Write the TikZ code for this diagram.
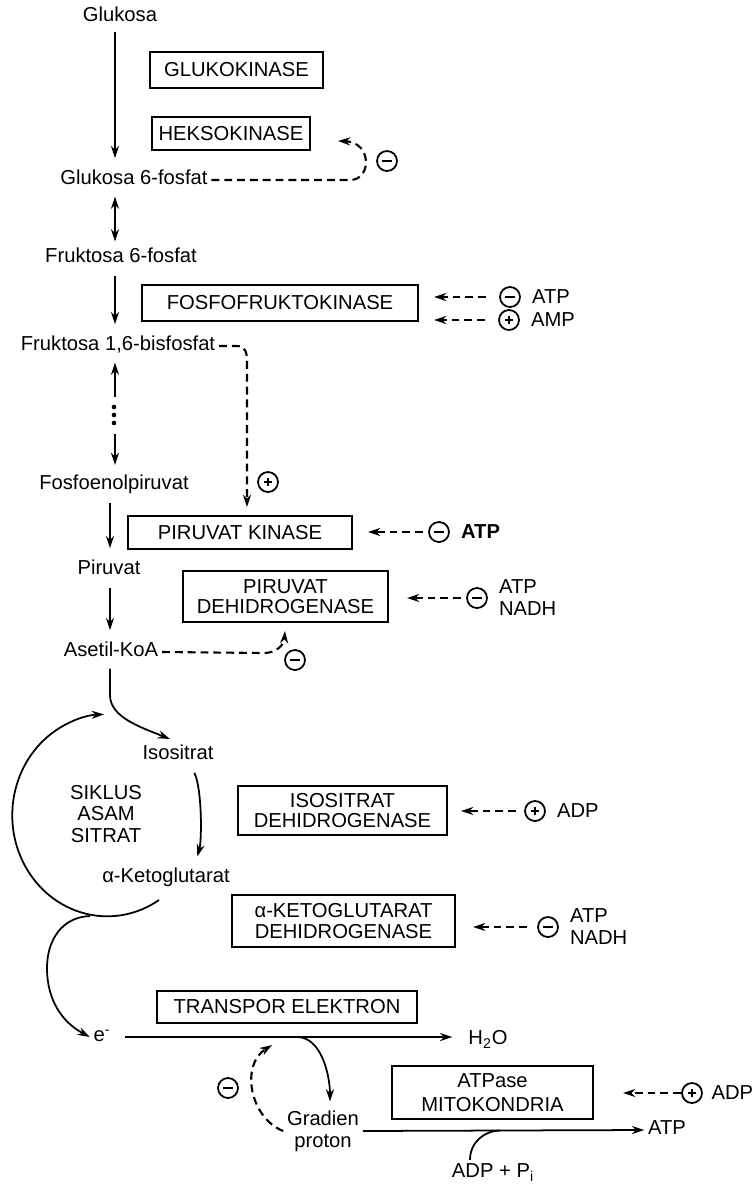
\documentclass[tikz,border=0pt]{standalone}
\usepackage{fontspec}
\setmainfont{Liberation Sans}
\usetikzlibrary{arrows.meta,positioning}

\begin{document}
\begin{tikzpicture}[x=0.02cm,y=-0.02cm,
    font=\fontsize{11.5}{12.5}\selectfont,
    zat/.style={inner sep=2pt,text height=8pt,text depth=2.5pt},
    enzim/.style={draw,line width=1.2pt,align=center,inner sep=2pt,
      font=\fontsize{11.5}{11.5}\selectfont},
    panah/.style={line width=1pt,-{Stealth[length=7pt,width=4.6pt]}},
    atur/.style={line width=1.2pt,dash pattern=on 4.5pt off 2.8pt,
      -{Stealth[length=7pt,width=4.6pt]}},
    reg/.style={atur,shorten <=0.1cm,shorten >=0.3cm},
    tanda/.style={circle,draw,line width=1pt,minimum size=0.4cm,inner sep=0pt},
    minus/.style={tanda,path picture={\draw[line width=1pt]
      ([xshift=-2.6pt]path picture bounding box.center) --
      ([xshift=2.6pt]path picture bounding box.center);}},
    plus/.style={tanda,path picture={\draw[line width=1pt]
      ([xshift=-2.2pt]path picture bounding box.center) --
      ([xshift=2.2pt]path picture bounding box.center)
      ([yshift=-2.2pt]path picture bounding box.center) --
      ([yshift=2.2pt]path picture bounding box.center);}}]

\fill[white] (0,0) rectangle (753,1188);
\useasboundingbox (0,0) rectangle (753,1188);

\coordinate (sumbu) at (115,0);
\coordinate (sumbuB) at (110,0);
\coordinate (hkujung) at (338,141);
\coordinate (pkatas) at (247,507);
\coordinate (pdhbawah) at (285,631);
\coordinate (masuk) at (170,739);
\coordinate (kg) at (159,900);
\coordinate (simpang) at (90,916);
\coordinate (cabang) at (297,1037);
\coordinate (umpan) at (272,1045);
\coordinate (gabung) at (500,1130.5);

% zat
\node[zat] (glukosa) at (120,17) {Glukosa};
\node[zat] (g6p) at (134,180) {Glukosa 6-fosfat};
\node[zat] (f6p) at (121,258) {Fruktosa 6-fosfat};
\node[zat] (f16bp) at (118,346) {Fruktosa 1,6-bisfosfat};
\node[zat] (pep) at (114,485) {Fosfoenolpiruvat};
\node[zat] (piruvat) at (109,570) {Piruvat};
\node[zat] (asetil) at (111,652) {Asetil-KoA};
\node[zat] (isositrat) at (178,755) {Isositrat};
\node[zat] (ketoglutarat) at (166,878) {α-Ketoglutarat};
\node[align=center,font=\fontsize{11.5}{12}\selectfont] (siklus) at (106,814) {SIKLUS\\ASAM\\SITRAT};
\node[zat] (elektron) at (102,1037) {e\textsuperscript{-}};
\node[zat] (h2o) at (488,1040) {H\textsubscript{2}O};
\node[align=center,inner sep=2pt] (gradien) at (323,1131) {Gradien\\proton};
\node[zat] (atp) at (667,1130) {ATP};
\node[zat] (adppi) at (493,1173) {ADP + P\textsubscript{i}};

% enzim
\node[enzim,minimum width=3.46cm,minimum height=0.72cm] (gk) at (236.5,70) {GLUKOKINASE};
\node[enzim,minimum width=3.16cm,minimum height=0.66cm] (hk) at (231,133.5) {HEKSOKINASE};
\node[enzim,minimum width=5.52cm,minimum height=0.72cm] (pfk) at (280,303) {FOSFOFRUKTOKINASE};
\node[enzim,minimum width=4.48cm,minimum height=0.66cm] (pk) at (240,532.5) {PIRUVAT KINASE};
\node[enzim,minimum width=4.1cm,minimum height=1.02cm] (pdh) at (285.5,596.5) {PIRUVAT\\DEHIDROGENASE};
\node[enzim,minimum width=4.18cm,minimum height=0.98cm] (idh) at (342.5,810.5) {ISOSITRAT\\DEHIDROGENASE};
\node[enzim,minimum width=4.46cm,minimum height=1.04cm] (kgdh) at (343.5,921) {α-KETOGLUTARAT\\DEHIDROGENASE};
\node[enzim,minimum width=5.2cm,minimum height=0.64cm] (te) at (287,1007) {TRANSPOR ELEKTRON};
\node[enzim,minimum width=4.02cm,minimum height=1.06cm] (atpase) at (492.5,1092.5) {ATPase\\[2pt]MITOKONDRIA};

% glikolisis
\draw[panah,shorten <=1pt,shorten >=5pt] (sumbu |- glukosa.south) -- (sumbu |- g6p.north);
\draw[line width=1pt,{Stealth[length=7pt,width=4.6pt]}-{Stealth[length=7pt,width=4.6pt]},
  shorten <=2pt,shorten >=2pt] (sumbu |- g6p.south) -- (sumbu |- f6p.north);
\draw[panah,shorten <=3pt,shorten >=5pt] (sumbu |- f6p.south) -- (sumbu |- f16bp.north);
\draw[line width=1pt,{Stealth[length=7pt,width=4.6pt]}-,shorten <=2pt]
  (sumbu |- f16bp.south) -- ++(0,38);
\foreach \t in {407,415,423}
  \fill (114,\t) circle (1.3pt);
\draw[panah,shorten >=4pt] (sumbu |- f16bp.south) ++(0,75) -- (sumbu |- pep.north);
\draw[panah,shorten <=3pt,shorten >=5pt] (sumbuB |- pep.south) -- (sumbuB |- piruvat.north);
\draw[panah,shorten <=3pt,shorten >=5pt] (sumbuB |- piruvat.south) -- (sumbuB |- asetil.north);

% siklus asam sitrat
\draw[panah,shorten <=2pt] (sumbuB |- asetil.south) -- ++(0,30)
  .. controls +(0,22) and +(-30,-12) .. (masuk);
\draw[panah] (kg) arc[start angle=57,end angle=268,x radius=95,y radius=101];
\draw[panah,shorten <=3pt,shorten >=5pt] ([xshift=0.28cm]isositrat.south)
  .. controls +(10,20) and +(7,-25) .. ([xshift=0.58cm]ketoglutarat.north);
\draw[panah] (simpang) .. controls (62,917) and (47,940) .. (47,968)
  .. controls (47,1000) and (62,1022) .. (elektron.west);

% transpor elektron
\draw[panah,shorten <=6pt,shorten >=7pt] (elektron.east) -- (elektron.east -| h2o.west);
\draw[panah,shorten >=3pt] (cabang) .. controls +(25,0) and +(0,-30) .. ([xshift=0.14cm]gradien.north);
\draw[panah] (gradien.east) -- (atp.west);
\draw[line width=1pt] ([xshift=-0.46cm]adppi.north) .. controls +(0,-18) and +(-15,0) .. (gabung);

% regulasi
\draw[atur] (g6p.east) -- (350,180) .. controls (372,180) and (372,142) .. (hkujung);
\node[minus] (m1) at (387,161) {};

\node[minus] (m2) at (510,297) {};
\node[right=0.1cm of m2] (atp1) {ATP};
\node[plus] (p1) at (509,320) {};
\node[right=0.1cm of p1] (amp1) {AMP};
\draw[reg,shorten <=0.26cm] (m2) -- (m2 -| pfk.east);
\draw[reg,shorten <=0.26cm] (p1) -- (p1 -| pfk.east);

\draw[atur] (f16bp.east) -- (236,346) .. controls (246,346) and (247,352) .. (247,364) -- (pkatas);
\node[plus] (p2) at (268,482) {};

\node[minus] (m3) at (439,532) {};
\node[right=0.1cm of m3] (atp2) {\bfseries ATP};
\draw[reg] (m3) -- (m3 -| pk.east);

\node[minus] (m4) at (477,598) {};
\node[right=0.1cm of m4,align=left] (atpnadh1) {ATP\\NADH};
\draw[reg,shorten >=0.36cm] (m4) -- (m4 -| pdh.east);

\draw[atur] (asetil.east) -- (264,653) .. controls (276,653) and (284,645) .. (pdhbawah);
\node[minus] (m5) at (295,660) {};

\node[plus] (p3) at (535,811) {};
\node[right=0.1cm of p3] (adp1) {ADP};
\draw[reg,shorten <=0.16cm,shorten >=0.26cm] (p3) -- (p3 -| idh.east);

\node[minus] (m6) at (548,927) {};
\node[right=0.1cm of m6,align=left] (atpnadh2) {ATP\\NADH};
\draw[reg,shorten <=0.2cm,shorten >=0.34cm] (m6) -- (m6 -| kgdh.east);

\draw[atur] (gradien.west) .. controls (250,1118) and (240,1065) .. (umpan);
\node[minus] (m7) at (228,1088) {};

\node[plus] (p4) at (692,1093) {};
\node[right=0.05cm of p4] (adp2) {ADP};
\draw[reg,shorten <=0pt,shorten >=0.58cm] (p4) -- (p4 -| atpase.east);
\end{tikzpicture}
\end{document}
